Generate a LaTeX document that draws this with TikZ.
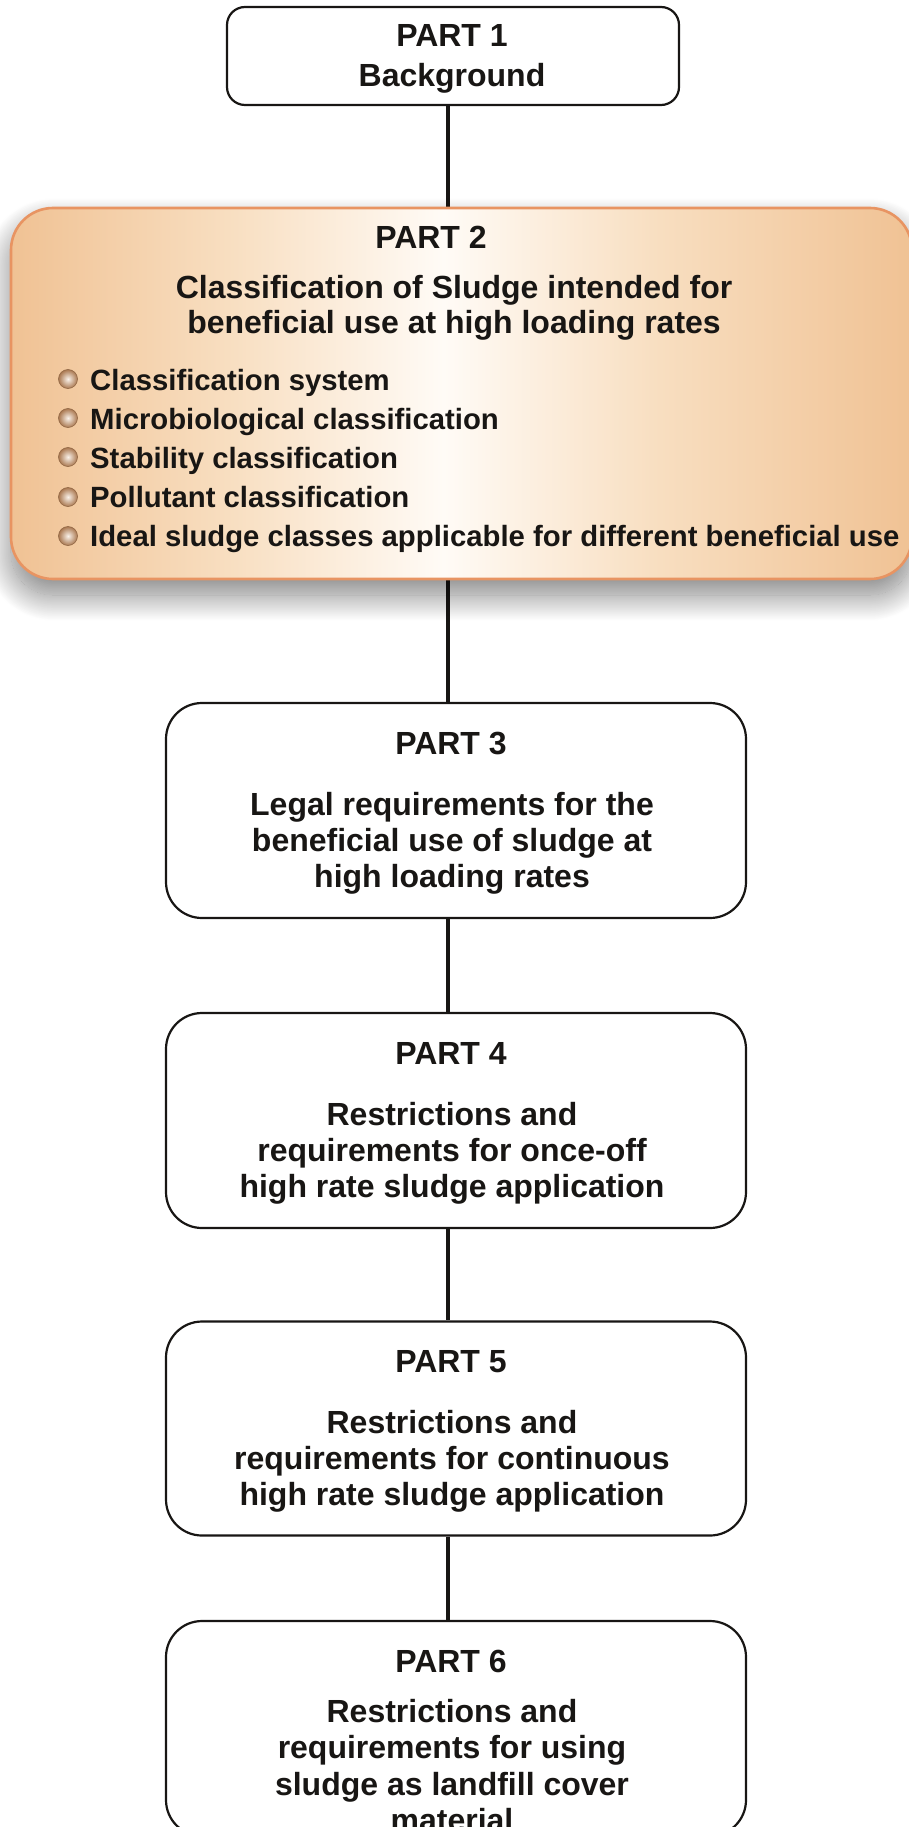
\documentclass[tikz,border=0pt]{standalone}
\usepackage{fontspec}
\setmainfont{Liberation Sans}
\usetikzlibrary{shadows.blur}
\definecolor{pOr}{RGB}{240,194,148}
\definecolor{pMid}{RGB}{248,222,192}
\definecolor{pWh}{RGB}{255,251,246}
\definecolor{pEdge}{RGB}{232,148,98}
\definecolor{txt}{RGB}{24,22,20}
\definecolor{bulOut}{RGB}{170,120,80}
\definecolor{bulIn}{RGB}{250,242,234}
\pgfdeclarehorizontalshading{ptwo}{100bp}{color(0bp)=(pOr); color(25bp)=(pOr); color(37bp)=(pMid); color(49bp)=(pWh); color(61bp)=(pMid); color(75bp)=(pOr); color(100bp)=(pOr)}
\pgfdeclarelayer{bg}
\pgfsetlayers{bg,main}
\begin{document}
\begin{tikzpicture}[x=1pt,y=-1pt,
  box/.style={draw=txt, line width=2.2pt, fill=white, rectangle, inner sep=0pt},
  title/.style={anchor=base, inner sep=0pt, text=txt, font=\fontsize{32}{36}\selectfont\bfseries},
  bultext/.style={anchor=base west, inner sep=0pt, text=txt, font=\fontsize{29.3}{33}\selectfont\bfseries},
  bul/.style={circle, minimum size=19pt, inner sep=0pt, inner color=bulIn, outer color=bulOut, draw=bulOut!85!black, line width=0.6pt},
  conn/.style={draw=txt, line width=3.6pt}]
\useasboundingbox (0,0) rectangle (908,1827);

% boxes
\node[box, minimum width=452pt, minimum height=98pt, rounded corners=18pt] (p1) at (453,56) {};
\node[rectangle, inner sep=0pt, draw=pEdge, line width=2.6pt, shade, shading=ptwo,
      minimum width=901pt, minimum height=371pt, rounded corners=42pt,
      blur shadow={shadow xshift=0pt, shadow yshift=-16pt, shadow blur radius=26pt, shadow blur steps=40, shadow opacity=50}] (p2) at (461.5,393.5) {};
\node[box, minimum width=580pt, minimum height=215pt, rounded corners=36pt] (p3) at (456,810.5) {};
\node[box, minimum width=580pt, minimum height=215pt, rounded corners=36pt] (p4) at (456,1120.5) {};
\node[box, minimum width=580pt, minimum height=214pt, rounded corners=36pt] (p5) at (456,1428.5) {};
\node[box, minimum width=580pt, minimum height=215pt, rounded corners=36pt] (p6) at (456,1728.5) {};

% connectors
\path (448,0) coordinate (lx);
\begin{pgfonlayer}{bg}
\draw[conn] (p1.south -| lx) -- (p2.north -| lx);
\draw[conn] (p2.south -| lx) -- (p3.north -| lx);
\draw[conn] (p3.south -| lx) -- (p4.north -| lx);
\draw[conn] (p4.south -| lx) -- (p5.north -| lx);
\draw[conn] (p5.south -| lx) -- (p6.north -| lx);
\end{pgfonlayer}

% PART 1
\node[title] (t1a) at (452,47) {PART 1};
\node[title] (t1b) at (452,87) {Background};

% PART 2
\node[title] (t2a) at (431,249) {PART 2};
\node[title] (t2b) at (454,298) {Classification of Sludge intended for};
\node[title] (t2c) at (454,333) {beneficial use at high loading rates};
\node[bul] (b1) at (68,379) {};
\node[bul] (b2) at (68,418) {};
\node[bul] (b3) at (68,457) {};
\node[bul] (b4) at (68,497) {};
\node[bul] (b5) at (68,536) {};
\node[bultext] (s1) at (90,390) {Classification system};
\node[bultext] (s2) at (90,429.2) {Microbiological classification};
\node[bultext] (s3) at (90,468.4) {Stability classification};
\node[bultext] (s4) at (90,507.6) {Pollutant classification};
\node[bultext] (s5) at (90,546.8) {Ideal sludge classes applicable for different beneficial use};

% PART 3
\node[title] (t3a) at (451,754) {PART 3};
\node[title] (t3b) at (452,815) {Legal requirements for the};
\node[title] (t3c) at (452,851) {beneficial use of sludge at};
\node[title] (t3d) at (452,887) {high loading rates};

% PART 4
\node[title] (t4a) at (451,1064) {PART 4};
\node[title] (t4b) at (452,1125) {Restrictions and};
\node[title] (t4c) at (452,1161) {requirements for once-off};
\node[title] (t4d) at (452,1197) {high rate sludge application};

% PART 5
\node[title] (t5a) at (451,1372) {PART 5};
\node[title] (t5b) at (452,1433) {Restrictions and};
\node[title] (t5c) at (452,1469) {requirements for continuous};
\node[title] (t5d) at (452,1505) {high rate sludge application};

% PART 6
\node[title] (t6a) at (451,1672) {PART 6};
\node[title] (t6b) at (452,1722) {Restrictions and};
\node[title] (t6c) at (452,1758) {requirements for using};
\node[title] (t6d) at (452,1795) {sludge as landfill cover};
\node[title] (t6e) at (452,1831) {material};
\end{tikzpicture}
\end{document}
